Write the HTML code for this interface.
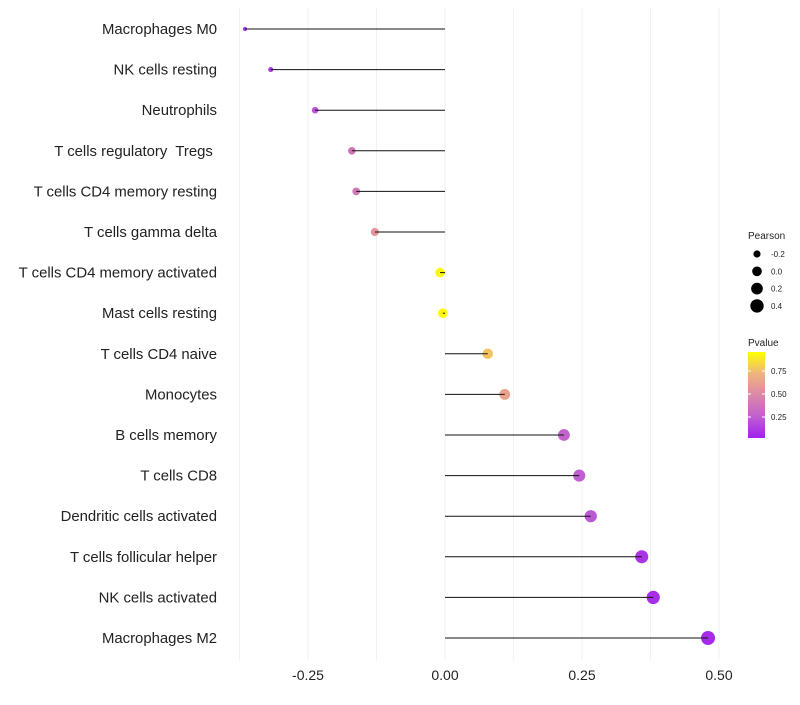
<!DOCTYPE html>
<html><head><meta charset="utf-8">
<style>
body{margin:0;background:#fff;font-family:"Liberation Sans",sans-serif}
svg text{font-family:"Liberation Sans",sans-serif;white-space:pre}
</style></head>
<body>
<svg id="chart" width="800" height="700" xmlns="http://www.w3.org/2000/svg">
<defs>
<linearGradient id="pgrad" x1="0" y1="1" x2="0" y2="0">
<stop offset="0" stop-color="#A020F0"/>
<stop offset="0.25" stop-color="#C060D0"/>
<stop offset="0.5" stop-color="#DC88A8"/>
<stop offset="0.75" stop-color="#F0B47C"/>
<stop offset="1" stop-color="#FFFF00"/>
</linearGradient>
</defs>
<g id="grid"></g>
<g id="marks"></g>
<g id="labels"></g>
<g id="legend">
<text x="748" y="239" font-size="10" fill="#222">Pearson</text>
<text x="748" y="346" font-size="10" fill="#222">Pvalue</text>
<rect x="748" y="352" width="17" height="86" fill="url(#pgrad)"/>
</g>
</svg>
<script>
const categories=["Macrophages M0","NK cells resting","Neutrophils","T cells regulatory  Tregs ","T cells CD4 memory resting","T cells gamma delta","T cells CD4 memory activated","Mast cells resting","T cells CD4 naive","Monocytes","B cells memory","T cells CD8","Dendritic cells activated","T cells follicular helper","NK cells activated","Macrophages M2"];
const pearson=[-0.365,-0.318,-0.237,-0.170,-0.162,-0.128,-0.009,-0.004,0.078,0.109,0.217,0.245,0.266,0.359,0.380,0.480];
const pvalues=[0.05,0.10,0.20,0.38,0.40,0.58,0.97,0.98,0.80,0.65,0.27,0.25,0.22,0.08,0.06,0.04];
const xTicks=[-0.25,0,0.25,0.5];
const xTickLabels=["-0.25","0.00","0.25","0.50"];
const sizeLegendVals=[-0.2,0,0.2,0.4];
const sizeLegendLabels=["-0.2","0.0","0.2","0.4"];
const colorLegendVals=[0.25,0.5,0.75];
const colorLegendLabels=["0.25","0.50","0.75"];

const NS="http://www.w3.org/2000/svg";
const x=v=>445+v*548;
const y=i=>29+i*40.6;
const minV=-0.365,maxV=0.48;
const rad=v=>Math.sqrt(4+45*(v-minV)/(maxV-minV));
const stops=[[0,[160,32,240]],[0.25,[192,96,208]],[0.5,[220,136,168]],[0.75,[240,180,124]],[1,[255,255,0]]];
function col(p){p=Math.max(0,Math.min(1,p));
 for(let k=1;k<stops.length;k++){if(p<=stops[k][0]){const a=stops[k-1],b=stops[k],t=(p-a[0])/(b[0]-a[0]);
 return "rgb("+a[1].map((c,j)=>Math.round(c+(b[1][j]-c)*t)).join(",")+")";}}return "rgb(255,255,0)";}
function mk(tag,attrs,parent){const e=document.createElementNS(NS,tag);for(const k in attrs)e.setAttribute(k,attrs[k]);parent.appendChild(e);return e;}
const grid=document.getElementById('grid'),marks=document.getElementById('marks'),labels=document.getElementById('labels'),legend=document.getElementById('legend');
for(let v=-0.375;v<=0.5;v+=0.125){const g=mk('line',{x1:x(v),x2:x(v),y1:8,y2:660,stroke:'#f2f2f2','stroke-width':1},grid);

}
xTicks.forEach((v,i)=>{const t=mk('text',{x:x(v),y:680,'font-size':14,'text-anchor':'middle',fill:'#222'},labels);t.textContent=xTickLabels[i];

});
categories.forEach((c,i)=>{
 const t=mk('text',{x:217,y:y(i)+5,'font-size':14.9,'text-anchor':'end',fill:'#222'},labels);t.textContent=c;
 
 
 const p=mk('circle',{cx:x(pearson[i]),cy:y(i),r:rad(pearson[i]),fill:col(pvalues[i])},marks);
 
 
 const l=mk('line',{x1:x(0),x2:x(pearson[i]),y1:y(i),y2:y(i),stroke:'#111','stroke-width':1},marks);
 
 
});
sizeLegendVals.forEach((v,i)=>{const cy=254+i*17.3;
 const c=mk('circle',{cx:757,cy:cy,r:rad(v),fill:'#000'},legend);
 
 
 const t=mk('text',{x:771,y:cy+3,'font-size':8,fill:'#222'},legend);t.textContent=sizeLegendLabels[i];
 
 });
colorLegendVals.forEach((v,i)=>{const cy=394-(v-0.5)*92;
 const t=mk('text',{x:771,y:cy+3,'font-size':8,fill:'#222'},legend);t.textContent=colorLegendLabels[i];
 
 
 mk('line',{x1:748,x2:751,y1:cy,y2:cy,stroke:'#fff'},legend);mk('line',{x1:762,x2:765,y1:cy,y2:cy,stroke:'#fff'},legend);});
</script>
</body></html>
